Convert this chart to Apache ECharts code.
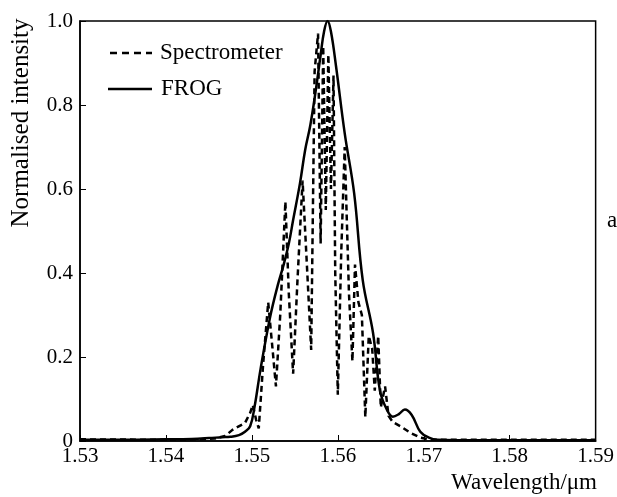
<!DOCTYPE html>
<html>
<head>
<meta charset="utf-8">
<script src="https://cdn.jsdelivr.net/npm/echarts@6/dist/echarts.min.js"></script>
<style>
  html, body { margin: 0; padding: 0; background: #fff; }
  #chart { width: 617px; height: 497px; }
</style>
</head>
<body>
<div id="chart"></div>
<script>
// Wavelength axis ticks (µm) and intensity ticks
const xTicks = [1.53, 1.54, 1.55, 1.56, 1.57, 1.58, 1.59];
const yTicks = [0, 0.2, 0.4, 0.6, 0.8, 1.0];
const seriesNames = ['Spectrometer', 'FROG'];

// Spectrometer trace (fringed spectrum)
const specWavelength = [
  1.5300, 1.5381, 1.5440, 1.5457, 1.5469, 1.5477, 1.5483, 1.5492, 1.5498, 1.5501,
  1.5505, 1.5508, 1.5513, 1.5519, 1.5524, 1.5528, 1.5533, 1.5539, 1.5543, 1.5548,
  1.5553, 1.5559, 1.5564, 1.5569, 1.5573, 1.5577, 1.5580, 1.5583, 1.5586, 1.5589,
  1.5592, 1.5595, 1.5597, 1.5600, 1.5604, 1.5608, 1.5613, 1.5617, 1.5620, 1.5624,
  1.5628, 1.5632, 1.5636, 1.5640, 1.5643, 1.5647, 1.5650, 1.5655, 1.5659, 1.5664,
  1.5673, 1.5684, 1.5696, 1.5707, 1.5900
];
const specIntensity = [
  0.004, 0.003, 0.004, 0.006, 0.012, 0.026, 0.033, 0.043, 0.067, 0.086,
  0.050, 0.030, 0.180, 0.330, 0.220, 0.130, 0.300, 0.570, 0.350, 0.160,
  0.380, 0.620, 0.420, 0.217, 0.880, 0.970, 0.470, 0.940, 0.550, 0.920,
  0.600, 0.870, 0.400, 0.110, 0.450, 0.700, 0.350, 0.190, 0.420, 0.330,
  0.300, 0.057, 0.250, 0.220, 0.120, 0.250, 0.080, 0.130, 0.060, 0.045,
  0.035, 0.020, 0.008, 0.003, 0.003
];

// FROG-retrieved spectrum
const frogWavelength = [
  1.5300, 1.5350, 1.5400, 1.5430, 1.5450, 1.5465, 1.5475, 1.5485, 1.5492, 1.5498,
  1.5503, 1.5510, 1.5521, 1.5530, 1.5537, 1.5543, 1.5548, 1.5556, 1.5562, 1.5568,
  1.5574, 1.5580, 1.5584, 1.5588, 1.5592, 1.5598, 1.5608, 1.5619, 1.5629, 1.5641,
  1.5649, 1.5657, 1.5664, 1.5671, 1.5678, 1.5686, 1.5696, 1.5706, 1.5716, 1.5750,
  1.5800, 1.5900
];
const frogIntensity = [
  0.003, 0.003, 0.004, 0.005, 0.007, 0.009, 0.010, 0.014, 0.022, 0.035,
  0.080, 0.170, 0.293, 0.370, 0.420, 0.470, 0.526, 0.614, 0.693, 0.752,
  0.830, 0.919, 0.975, 1.000, 0.975, 0.891, 0.733, 0.590, 0.383, 0.257,
  0.120, 0.075, 0.058, 0.064, 0.075, 0.062, 0.022, 0.008, 0.003, 0.002,
  0.002, 0.002
];

const pairs = (xs, ys) => xs.map((x, i) => [x, ys[i]]);
const FONT = 'Liberation Serif';
const TITLE = '23px "Liberation Serif"';
const dashed = [6, 4];

const chart = echarts.init(document.getElementById('chart'));
chart.setOption({
  animation: false,
  backgroundColor: '#fff',
  grid: {
    left: 80, right: 21, top: 21, bottom: 56,
    show: true, borderColor: '#000', borderWidth: 1.5, backgroundColor: 'transparent'
  },
  xAxis: {
    type: 'value',
    min: xTicks[0], max: xTicks[xTicks.length - 1], interval: 0.01,
    axisLine: { lineStyle: { color: '#000', width: 1.5 } },
    axisTick: { inside: true, length: 6, lineStyle: { color: '#000', width: 1 } },
    axisLabel: {
      fontFamily: FONT, fontSize: 21, color: '#000', margin: 5,
      formatter: v => v.toFixed(2)
    },
    splitLine: { show: false }
  },
  yAxis: {
    type: 'value',
    min: yTicks[0], max: yTicks[yTicks.length - 1], interval: 0.2,
    axisLine: { show: true, lineStyle: { color: '#000', width: 1.5 } },
    axisTick: { show: true, inside: true, length: 6, lineStyle: { color: '#000', width: 1 } },
    axisLabel: {
      fontFamily: FONT, fontSize: 21, color: '#000', margin: 7,
      formatter: v => (v === 0 ? '0' : v.toFixed(1))
    },
    splitLine: { show: false }
  },
  graphic: [
    {
      type: 'text', x: 21, y: 123, rotation: Math.PI / 2,
      style: { text: 'Normalised intensity', font: '25px "Liberation Serif"', fill: '#000', align: 'center', verticalAlign: 'middle' }
    },
    {
      type: 'text', x: 597, y: 483,
      style: { text: 'Wavelength/μm', font: TITLE, fill: '#000', align: 'right', verticalAlign: 'middle' }
    },
    {
      type: 'text', x: 612, y: 221,
      style: { text: 'a', font: TITLE, fill: '#000', align: 'center', verticalAlign: 'middle' }
    },
    // legend
    {
      type: 'line', shape: { x1: 110, y1: 53, x2: 152, y2: 53 },
      style: { stroke: '#000', lineWidth: 2.5, lineDash: [7, 5] }
    },
    {
      type: 'text', x: 160, y: 53,
      style: { text: seriesNames[0], font: TITLE, fill: '#000', verticalAlign: 'middle' }
    },
    {
      type: 'line', shape: { x1: 108, y1: 89, x2: 152, y2: 89 },
      style: { stroke: '#000', lineWidth: 2.5 }
    },
    {
      type: 'text', x: 161, y: 89,
      style: { text: seriesNames[1], font: TITLE, fill: '#000', verticalAlign: 'middle' }
    }
  ],
  series: [
    {
      name: seriesNames[0], type: 'line', symbol: 'none',
      data: pairs(specWavelength, specIntensity),
      lineStyle: { color: '#000', width: 2.5, type: dashed }
    },
    {
      name: seriesNames[1], type: 'line', symbol: 'none', smooth: 0.4,
      data: pairs(frogWavelength, frogIntensity),
      lineStyle: { color: '#000', width: 2.5 }
    }
  ]
});
</script>
</body>
</html>
